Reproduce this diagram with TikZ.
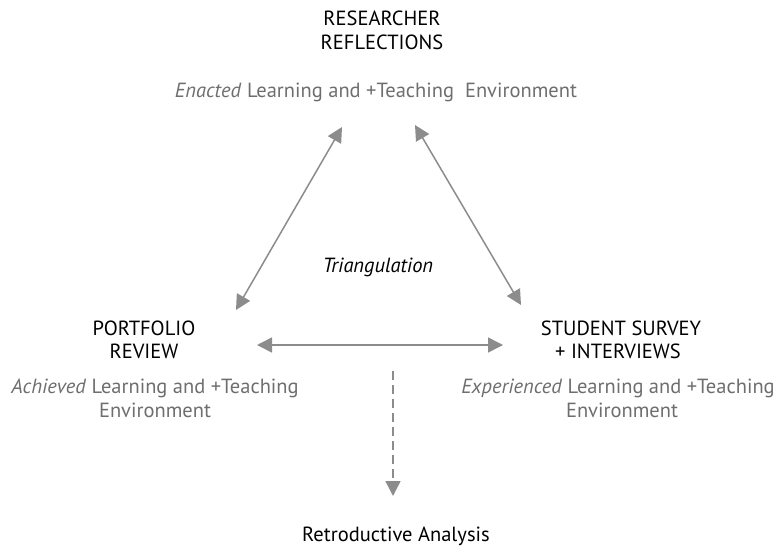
\documentclass[tikz,border=0pt]{standalone}
\usepackage{fontspec}
\setmainfont{PT Sans}
\usetikzlibrary{arrows.meta}
\definecolor{txtgray}{HTML}{6E6E6E}
\definecolor{arrgray}{HTML}{8C8C8C}
\tikzset{
  head/.style={font=\fontsize{20.5}{24}\selectfont, text=black, anchor=base, inner sep=0pt},
  desc/.style={font=\fontsize{20.5}{24}\selectfont, text=txtgray, anchor=base, inner sep=0pt},
  link/.style={draw=arrgray, line width=1.5pt, {Triangle[length=15pt,width=15pt]}-{Triangle[length=15pt,width=15pt]}},
  flow/.style={draw=arrgray, line width=1.5pt, dash pattern=on 9pt off 5pt, -{Triangle[length=15pt,width=15pt]}}
}
\begin{document}
\begin{tikzpicture}[x=1pt,y=-1pt]
\useasboundingbox (0,0) rectangle (776,548);
% top block
\node[head] (r1) at (382,26) {RESEARCHER};
\node[head] (r2) at (382,50) {REFLECTIONS};
\node[desc] (re) at (376,98) {\textit{Enacted} Learning and +Teaching\ \ Environment};
% left block
\node[head] (p1) at (144,335) {PORTFOLIO};
\node[head] (p2) at (144,358) {REVIEW};
\node[desc] (pa1) at (155,393) {\textit{Achieved} Learning and +Teaching};
\node[desc] (pa2) at (155,417) {Environment};
% right block
\node[head] (s1) at (621,335) {STUDENT SURVEY};
\node[head] (s2) at (618,358) {+ INTERVIEWS};
\node[desc] (se1) at (618,393) {\textit{Experienced} Learning and +Teaching};
\node[desc] (se2) at (622,417) {Environment};
% centre
\node[head] (tri) at (378,272) {\textit{Triangulation}};
\node[head] (ra) at (396,541) {Retroductive Analysis};
% arrow ends
\coordinate (tl) at (342,127);
\coordinate (bl) at (236,310);
\coordinate (tr) at (415,125);
\coordinate (br) at (521,305);
\coordinate (hl) at (257,345);
\coordinate (hr) at (503,345);
\coordinate (dtop) at (393,371);
\coordinate (dbot) at (393,496);
\draw[link] (bl) -- (tl);
\draw[link] (tr) -- (br);
\draw[link] (hl) -- (hr);
\draw[flow] (dtop) -- (dbot);
\end{tikzpicture}
\end{document}
